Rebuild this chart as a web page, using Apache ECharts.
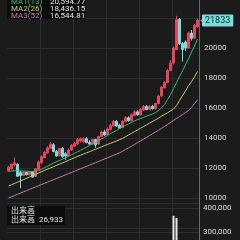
<!DOCTYPE html>
<html>
<head>
<meta charset="utf-8">
<script src="https://cdn.jsdelivr.net/npm/echarts@6/dist/echarts.min.js"></script>
<style>
html, body { margin: 0; padding: 0; background: #1b1b1b; }
#chart { width: 240px; height: 240px; }
</style>
</head>
<body>
<div id="chart"></div>
<script>
// 週足データ
var weeks = [1,2,3,4,5,6,7,8,9,10,11,12,13,14,15,16,17,18,19,20,21,22,23,24,25,26,27,28,29,30,31,32,
             33,34,35,36,37,38,39,40,41,42,43,44,45,46,47,48,49,50,51,52,53,54,55,56,57,58,59,60,61,62,63,64];

var openP  = [11800,11950,12200,12250,11700,11500,11700,11550,11750,11450,
              11900,12350,12700,13000,13300,13550,13100,12850,13300,12950,
              12800,13200,13450,13600,13800,13750,13950,13700,13600,13900,
              13600,14100,14400,14250,14550,14800,15100,14850,14700,15100,
              15350,15150,15500,15750,15550,15850,16100,15900,16100,15950,
              16300,16800,17350,17700,18500,19000,19900,21900,20300,20400,
              20000,21000,20650,21400];
var closeP = [12050,12250,12350,11450,11500,11700,11550,11750,11400,11950,
              12400,12750,13050,13350,13600,13100,12800,13300,12750,12800,
              13200,13500,13650,13900,13950,13950,13700,13600,13900,13550,
              14100,14400,14200,14600,14850,15100,14800,14650,15100,15350,
              15150,15550,15750,15550,15900,16100,15900,16100,15950,16300,
              16800,17400,17700,18500,19000,20000,21900,20300,19900,20000,
              21000,20650,21500,21833];
var lowP   = [11750,11900,12100,11400,10650,11450,11500,11500,11350,11400,
              11850,12300,12650,12950,13250,13050,12750,12800,12700,12550,
              12750,13150,13400,13550,13700,13700,13650,13550,13550,13350,
              13550,14050,14150,14200,14500,14750,14750,14600,14650,15050,
              15100,15100,15450,15500,15500,15800,15850,15850,15900,15900,
              16250,16750,17300,17650,18450,18900,19850,20200,19100,19800,
              19950,20500,20600,21350];
var highP  = [12150,12300,12700,12300,11800,11800,11750,11800,11800,12000,
              12500,12850,13150,13450,13750,13650,13200,13350,13400,13050,
              13300,13600,13750,14000,14050,14050,14050,13850,13950,13950,
              14150,14500,14550,14700,14950,15200,15200,14950,15200,15450,
              15450,15650,15850,15850,16000,16200,16200,16200,16200,16350,
              16850,17450,17800,18600,19200,20100,22150,22000,20400,20500,
              21100,21200,21600,21950];

// 移動平均 (13/26/52週)
var ma1 = [11790,11790,11820,11820,11820,11790,11790,11760,11760,11790,
           11820,11920,12020,12120,12220,12320,12420,12500,12590,12685,
           12785,12880,12980,13080,13180,13280,13380,13510,13610,13710,
           13840,13940,14040,14170,14300,14400,14500,14640,14740,14840,
           14940,15040,15140,15230,15300,15370,15465,15530,15600,15700,
           15830,16000,16230,16560,16890,17290,17680,18080,18480,18870,
           19270,19740,20130,20594.77];
var ma2 = [10800,10885,10970,11055,11140,11230,11310,11395,11480,11565,
           11660,11750,11840,11925,12005,12090,12175,12255,12340,12425,
           12510,12600,12685,12770,12850,12930,13010,13090,13170,13250,
           13330,13410,13490,13570,13645,13725,13805,13885,13975,14090,
           14200,14310,14425,14535,14650,14760,14875,14990,15100,15215,
           15325,15460,15565,15680,15800,15930,16160,16490,16820,17150,
           17480,17750,18080,18436.15];
var ma3 = [10000,10083,10160,10250,10330,10410,10490,10575,10655,10730,
           10815,10900,10980,11055,11140,11220,11300,11380,11460,11545,
           11625,11705,11785,11870,11950,12030,12110,12195,12275,12355,
           12435,12520,12600,12680,12760,12845,12925,13010,13115,13230,
           13340,13450,13570,13690,13810,13920,14040,14160,14280,14400,
           14510,14640,14770,14900,15035,15170,15300,15430,15565,15700,
           15830,16030,16290,16544.81];

// 出来高
var volume = [120000,95000,110000,150000,180000,90000,85000,80000,110000,130000,
              140000,150000,160000,170000,175000,160000,140000,120000,150000,130000,
              125000,130000,110000,120000,125000,115000,120000,110000,105000,130000,
              120000,135000,115000,125000,140000,150000,140000,120000,125000,130000,
              115000,120000,130000,110000,115000,125000,110000,105000,100000,120000,
              160000,190000,200000,230000,250000,367000,358000,255000,220000,180000,
              170000,150000,140000,26933];

var priceTicks = { min: 8000, max: 24000, interval: 2000 };
var volTicks = { min: 200000, max: 420000, interval: 100000 };

var maNames = ['MA1(13)', 'MA2(26)', 'MA3(52)'];
var maColors = ['#3dbb6e', '#c4cf72', '#c77cb4'];
var upColor = '#e2475e';
var downColor = '#7adcdc';

var candles = openP.map(function (o, i) {
    return [o, closeP[i], lowP[i], highP[i]];
});
var lastIdx = closeP.length - 1;

function fmt2(v) {
    return v.toLocaleString('en-US', { minimumFractionDigits: 2, maximumFractionDigits: 2 });
}

var vSplit = function (index) { return index > 0 && index % 11 === 0; };
var gridLine = { show: true, lineStyle: { color: '#2d2d2d', width: 1 } };
var font = 'Roboto, "Noto Sans CJK JP", sans-serif';

var myChart = echarts.init(document.getElementById('chart'));
var option = {
    backgroundColor: '#1b1b1b',
    animation: false,
    textStyle: { fontFamily: font },
    grid: [
        { left: 7, right: 41, top: -12, height: 240, outerBoundsMode: 'none', containLabel: false },
        { left: 7, right: 41, top: 203, height: 53, outerBoundsMode: 'none', containLabel: false }
    ],
    xAxis: [
        {
            type: 'category', gridIndex: 0, data: weeks, boundaryGap: true,
            axisLine: { show: false }, axisTick: { show: false }, axisLabel: { show: false },
            splitLine: { show: true, interval: vSplit, lineStyle: { color: '#2d2d2d' } }
        },
        {
            type: 'category', gridIndex: 1, data: weeks, boundaryGap: true,
            axisLine: { show: false }, axisTick: { show: false }, axisLabel: { show: false },
            splitLine: { show: true, interval: vSplit, lineStyle: { color: '#2d2d2d' } }
        }
    ],
    yAxis: [
        {
            type: 'value', gridIndex: 0, position: 'right',
            min: priceTicks.min, max: priceTicks.max, interval: priceTicks.interval,
            axisLine: { show: true, lineStyle: { color: '#6a6a6a' } },
            axisTick: { show: false },
            axisLabel: {
                color: '#dddddd', fontSize: 8, margin: 5, showMinLabel: false, showMaxLabel: false,
                formatter: function (v) { return String(v); }
            },
            splitLine: gridLine
        },
        {
            type: 'value', gridIndex: 1, position: 'right',
            min: volTicks.min, max: volTicks.max, interval: volTicks.interval,
            axisLine: { show: true, lineStyle: { color: '#6a6a6a' } },
            axisTick: { show: false },
            axisLabel: {
                color: '#dddddd', fontSize: 8, margin: 4, showMinLabel: false, showMaxLabel: false,
                formatter: function (v) { return v.toLocaleString('en-US'); }
            },
            splitLine: gridLine
        }
    ],
    series: [
        {
            name: 'price', type: 'candlestick', xAxisIndex: 0, yAxisIndex: 0,
            data: candles, barWidth: '70%',
            itemStyle: { color: upColor, color0: downColor, borderColor: upColor, borderColor0: downColor, borderWidth: 1 },
            markLine: {
                silent: true,
                symbol: ['none', 'none'],
                lineStyle: { color: 'rgba(0,0,0,0)', width: 0 },
                label: {
                    show: true, position: 'end', distance: 3,
                    formatter: function () { return String(closeP[lastIdx]); },
                    backgroundColor: downColor, color: '#0d2a2a',
                    fontSize: 9, padding: [2, 3, 1, 3], borderRadius: 1
                },
                data: [{ yAxis: closeP[lastIdx] }]
            }
        },
        {
            // 現在値ラベルの矢印
            name: 'arrow', type: 'scatter', xAxisIndex: 0, yAxisIndex: 0,
            data: [[lastIdx, closeP[lastIdx]]],
            symbol: 'triangle', symbolSize: [6, 5], symbolRotate: 90, symbolOffset: [5, 0],
            itemStyle: { color: downColor }, silent: true, clip: false, z: 3
        },
        { name: maNames[0], type: 'line', data: ma1, showSymbol: false, lineStyle: { width: 1, color: maColors[0] } },
        { name: maNames[1], type: 'line', data: ma2, showSymbol: false, lineStyle: { width: 1, color: maColors[1] } },
        { name: maNames[2], type: 'line', data: ma3, showSymbol: false, lineStyle: { width: 1, color: maColors[2] } },
        {
            name: '出来高', type: 'bar', xAxisIndex: 1, yAxisIndex: 1,
            data: volume, barWidth: 2, itemStyle: { color: '#e6e6e6' }
        }
    ],
    graphic: [
        { type: 'rect', shape: { x: 7, y: -6, width: 78, height: 25 }, style: { fill: '#0c0c0c' }, z: 10 },
        { type: 'text', x: 11, y: 2, z: 11, style: { text: maNames[0], fill: maColors[0], font: '8px ' + font, verticalAlign: 'middle' } },
        { type: 'text', x: 11, y: 9, z: 11, style: { text: maNames[1], fill: maColors[1], font: '8px ' + font, verticalAlign: 'middle' } },
        { type: 'text', x: 11, y: 16, z: 11, style: { text: maNames[2], fill: maColors[2], font: '8px ' + font, verticalAlign: 'middle' } },
        { type: 'text', x: 50, y: 2, z: 11, style: { text: fmt2(ma1[ma1.length - 1]), fill: '#e8e8e8', font: '8px ' + font, verticalAlign: 'middle' } },
        { type: 'text', x: 50, y: 9, z: 11, style: { text: fmt2(ma2[ma2.length - 1]), fill: '#e8e8e8', font: '8px ' + font, verticalAlign: 'middle' } },
        { type: 'text', x: 50, y: 16, z: 11, style: { text: fmt2(ma3[ma3.length - 1]), fill: '#e8e8e8', font: '8px ' + font, verticalAlign: 'middle' } },
        { type: 'rect', shape: { x: 7, y: 206, width: 58, height: 19 }, style: { fill: '#0c0c0c' }, z: 10 },
        { type: 'text', x: 11, y: 211, z: 11, style: { text: '出来高', fill: '#e8e8e8', font: '8px ' + font, verticalAlign: 'middle' } },
        { type: 'text', x: 11, y: 220, z: 11, style: { text: '出来高', fill: '#e8e8e8', font: '8px ' + font, verticalAlign: 'middle' } },
        { type: 'text', x: 39, y: 220, z: 11, style: { text: volume[volume.length - 1].toLocaleString('en-US'), fill: '#e8e8e8', font: '8px ' + font, verticalAlign: 'middle' } }
    ]
};
myChart.setOption(option);
</script>
</body>
</html>
